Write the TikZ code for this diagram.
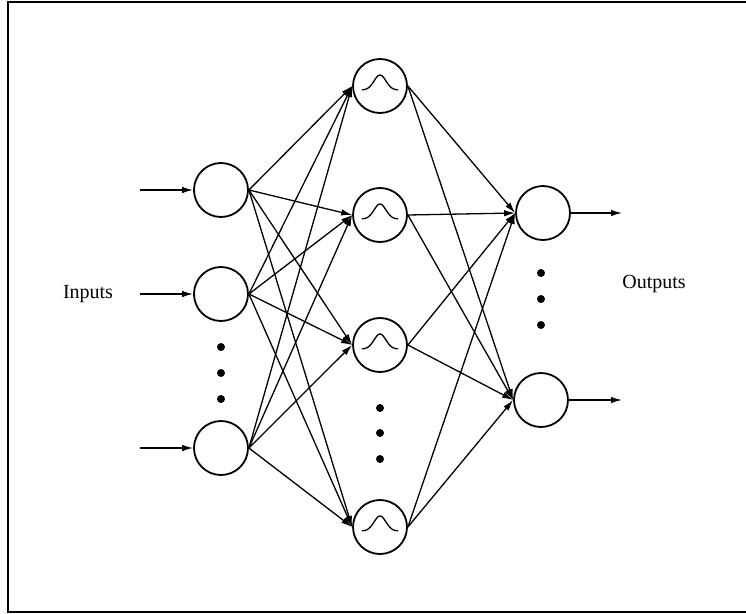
\documentclass[tikz,border=0pt]{standalone}
\usepackage{fontspec}
\setmainfont{Liberation Serif}
\usetikzlibrary{arrows.meta}
\begin{document}
\begin{tikzpicture}[x=1pt,y=-1pt,
  unit/.style={circle,draw,line width=1.8pt,minimum size=54pt,inner sep=0pt},
  link/.style={line width=1.3pt,-{Latex[length=11pt,width=6.5pt]}},
  dot/.style={circle,fill,inner sep=0pt,minimum size=8pt},
  lbl/.style={font=\fontsize{20}{24}\selectfont}]
\useasboundingbox (0,0) rectangle (746,613);
% frame
\draw[line width=1.5pt] (746,2) -- (8,2) -- (8,612) -- (746,612);

% input layer
\node[unit] (i1) at (221,190) {};
\node[unit] (i2) at (221,294) {};
\node[unit] (i3) at (221,448) {};
% hidden layer (radial basis units)
\node[unit] (h1) at (380,86) {};
\node[unit] (h2) at (380,215) {};
\node[unit] (h3) at (380,345) {};
\node[unit] (h4) at (380,527) {};
% output layer
\node[unit] (o1) at (543,213) {};
\node[unit] (o2) at (541,400) {};

% bell curves inside the hidden units
\foreach \h in {h1,h2,h3,h4}{
  \draw[line width=1.3pt,shift={(\h.center)}]
    plot[domain=-18:18,samples=40,smooth] (\x,{4-15*exp(-(\x*\x)/70)});
}

% ellipsis dots
\foreach \y in {347,373,399} \node[dot] (di\y) at (221,\y) {};
\foreach \y in {408,433,459} \node[dot] (dh\y) at (380,\y) {};
\foreach \y in {273,299,325} \node[dot] (do\y) at (541,\y) {};

% external inputs and outputs
\coordinate (a1) at (140,190);
\coordinate (a2) at (140,294);
\coordinate (a3) at (140,448);
\coordinate (b1) at (622,213);
\coordinate (b2) at (622,400);
\foreach \k in {1,2,3} \draw[link] (a\k) -- (i\k.west);
\draw[link] (o1.east) -- (b1);
\draw[link] (o2.east) -- (b2);

% fully connected layers
\foreach \i in {i1,i2,i3}
  \foreach \h in {h1,h2,h3,h4}
    \draw[link] (\i.east) -- (\h.west);
\foreach \h in {h1,h2,h3,h4}
  \foreach \o in {o1,o2}
    \draw[link] (\h.east) -- (\o.west);

% labels
\node[lbl] (inlbl) at (88,294) {Inputs};
\node[lbl] (outlbl) at (654,284) {Outputs};
\end{tikzpicture}
\end{document}
